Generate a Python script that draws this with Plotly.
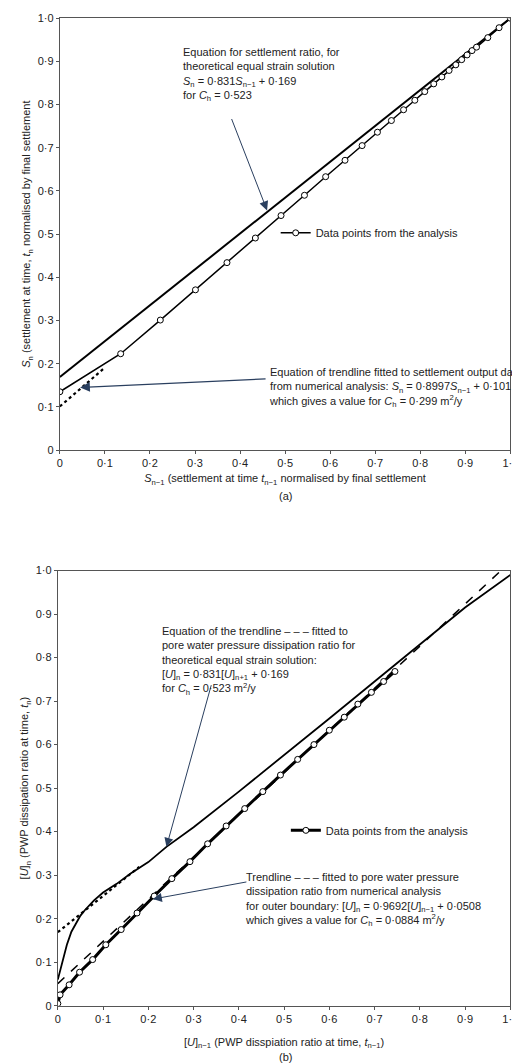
import plotly.graph_objects as go

# ---- Panel (a) data ----
a_x = [0, 0.135, 0.223, 0.301, 0.371, 0.434, 0.491, 0.543, 0.590, 0.633, 0.671, 0.705,
       0.736, 0.763, 0.788, 0.810, 0.830, 0.848, 0.864, 0.879, 0.892, 0.904, 0.915, 0.925,
       0.95, 0.975, 1.0]
a_y = [0.135, 0.223, 0.301, 0.371, 0.434, 0.491, 0.543, 0.590, 0.633, 0.671, 0.705, 0.736,
       0.763, 0.788, 0.810, 0.830, 0.848, 0.864, 0.879, 0.892, 0.904, 0.915, 0.925, 0.933,
       0.955, 0.978, 1.0]
a_theory_x = [0, 1]
a_theory_y = [0.169, 1.0]
a_trend_x = [0, 0.1]
a_trend_y = [0.101, 0.191]

# ---- Panel (b) data ----
b_x = [0, 0.005, 0.025, 0.048, 0.077, 0.106, 0.140, 0.175, 0.213, 0.252, 0.292, 0.331,
       0.372, 0.413, 0.453, 0.492, 0.530, 0.566, 0.600, 0.633, 0.663, 0.693, 0.720, 0.745]
b_y = [0.005, 0.025, 0.048, 0.077, 0.106, 0.140, 0.175, 0.213, 0.252, 0.292, 0.331, 0.372,
       0.413, 0.453, 0.492, 0.530, 0.566, 0.600, 0.633, 0.663, 0.693, 0.720, 0.745, 0.768]
b_theory_x = [0, 0.01, 0.02, 0.03, 0.04, 0.05, 0.06, 0.08, 0.10, 0.13, 0.16, 0.20, 0.24,
              0.30, 0.40, 0.50, 0.60, 0.70, 0.80, 0.90, 1.0]
b_theory_y = [0.06, 0.10, 0.14, 0.17, 0.19, 0.207, 0.22, 0.242, 0.26, 0.28, 0.303, 0.33, 0.365,
              0.41, 0.492, 0.575, 0.66, 0.745, 0.83, 0.915, 0.99]
b_tdot_x = [0, 0.18]
b_tdot_y = [0.169, 0.319]
b_trend_x = [0, 0.98]
b_trend_y = [0.0508, 1.0006]

ticks = [i / 10 for i in range(11)]
ticklab = ["0"] + ["0·%d" % i for i in range(1, 10)] + ["1·0"]

FONT = "Liberation Sans, Arial, sans-serif"
FS = 11
fig = go.Figure()

fig.add_trace(go.Scatter(x=a_theory_x, y=a_theory_y, mode="lines", line=dict(color="black", width=2),
                         xaxis="x", yaxis="y", showlegend=False))
fig.add_trace(go.Scatter(x=a_trend_x, y=a_trend_y, mode="lines", line=dict(color="black", width=2.2, dash="dot"),
                         xaxis="x", yaxis="y", showlegend=False))
fig.add_trace(go.Scatter(x=a_x, y=a_y, mode="lines+markers", name="Data points from the analysis",
                         line=dict(color="black", width=1.5),
                         marker=dict(symbol="circle", size=6, color="white", line=dict(color="black", width=1)),
                         xaxis="x", yaxis="y", legend="legend"))

fig.add_trace(go.Scatter(x=b_tdot_x, y=b_tdot_y, mode="lines", line=dict(color="black", width=2.2, dash="dot"),
                         xaxis="x2", yaxis="y2", showlegend=False))
fig.add_trace(go.Scatter(x=b_theory_x, y=b_theory_y, mode="lines", line=dict(color="black", width=1.8),
                         xaxis="x2", yaxis="y2", showlegend=False))
fig.add_trace(go.Scatter(x=b_trend_x, y=b_trend_y, mode="lines", line=dict(color="black", width=1.5, dash="dash"),
                         xaxis="x2", yaxis="y2", showlegend=False))
fig.add_trace(go.Scatter(x=b_x, y=b_y, mode="lines+markers", name="Data points from the analysis",
                         line=dict(color="black", width=3),
                         marker=dict(symbol="circle", size=6, color="white", line=dict(color="black", width=1)),
                         xaxis="x2", yaxis="y2", legend="legend2"))

ax_common = dict(range=[0, 1], tickvals=ticks, ticktext=ticklab, showgrid=False, zeroline=False,
                 showline=True, mirror=True, linecolor="#555", linewidth=1, ticks="outside",
                 ticklen=3, tickcolor="#555", tickfont=dict(size=FS, color="#222"))

fig.update_layout(
    width=520, height=1064, margin=dict(l=0, r=0, t=0, b=0),
    plot_bgcolor="white", paper_bgcolor="white",
    font=dict(family=FONT, size=FS, color="#222"),
    xaxis=dict(domain=[0.096, 0.981], anchor="y", **ax_common,
               title=dict(text="<i>S</i><sub>n−1</sub> (settlement at time <i>t</i><sub>n−1</sub> normalised by final settlement",
                          font=dict(size=FS), standoff=6)),
    yaxis=dict(domain=[0.5855, 0.996], anchor="x", **ax_common,
               title=dict(text="<i>S</i><sub>n</sub> (settlement at time, <i>t</i><sub>n</sub> normalised by final settlement",
                          font=dict(size=FS), standoff=4)),
    xaxis2=dict(domain=[0.092, 0.981], anchor="y2", **ax_common,
                title=dict(text="[<i>U</i>]<sub>n−1</sub> (PWP disspiation ratio at time, <i>t</i><sub>n−1</sub>)",
                           font=dict(size=FS), standoff=14)),
    yaxis2=dict(domain=[0.0573, 0.471], anchor="x2", **ax_common,
                title=dict(text="[<i>U</i>]<sub>n</sub> (PWP dissipation ratio at time, <i>t</i><sub>n</sub>)",
                           font=dict(size=FS), standoff=4)),
    legend=dict(x=0.52, y=0.792, xanchor="left", yanchor="middle", bgcolor="rgba(0,0,0,0)",
                font=dict(size=FS), itemwidth=30),
    legend2=dict(x=0.54, y=0.224, xanchor="left", yanchor="middle", bgcolor="rgba(0,0,0,0)",
                 font=dict(size=FS), itemwidth=30),
)

ann = []
ann.append(dict(xref="x", yref="y", x=0.46, y=0.555, ax=0.38, ay=0.77, axref="x", ayref="y",
                showarrow=True, arrowhead=2, arrowsize=1.8, arrowwidth=1, text=""))
ann.append(dict(xref="x", yref="y", x=0.27, y=0.94, xanchor="left", yanchor="top", align="left", showarrow=False,
                text="Equation for settlement ratio, for<br>theoretical equal strain solution<br>"
                     "<i>S</i><sub>n</sub> = 0·831<i>S</i><sub>n−1</sub> + 0·169<br>for <i>C</i><sub>h</sub> = 0·523"))
ann.append(dict(xref="x", yref="y", x=0.045, y=0.145, ax=0.46, ay=0.165, axref="x", ayref="y",
                showarrow=True, arrowhead=2, arrowsize=1.5, arrowwidth=1.3, text=""))
ann.append(dict(xref="x", yref="y", x=0.46, y=0.2, xanchor="left", yanchor="top", align="left", showarrow=False,
                text="Equation of trendline fitted to settlement output data<br>from numerical analysis: "
                     "<i>S</i><sub>n</sub> = 0·8997<i>S</i><sub>n−1</sub> + 0·101<br>"
                     "which gives a value for <i>C</i><sub>h</sub> = 0·299 m<sup>2</sup>/y"))
ann.append(dict(xref="paper", yref="paper", x=0.54, y=0.542, showarrow=False, text="(a)", font=dict(size=FS)))

ann.append(dict(xref="x2", yref="y2", x=0.24, y=0.365, ax=0.34, ay=0.74, axref="x2", ayref="y2",
                showarrow=True, arrowhead=2, arrowsize=1.8, arrowwidth=1, text=""))
ann.append(dict(xref="x2", yref="y2", x=0.225, y=0.88, xanchor="left", yanchor="top", align="left", showarrow=False,
                text="Equation of the trendline – – – fitted to<br>pore water pressure dissipation ratio for<br>"
                     "theoretical equal strain solution:<br>[<i>U</i>]<sub>n</sub> = 0·831[<i>U</i>]<sub>n+1</sub> + 0·169<br>"
                     "for <i>C</i><sub>h</sub> = 0·523 m<sup>2</sup>/y"))
ann.append(dict(xref="x2", yref="y2", x=0.21, y=0.245, ax=0.42, ay=0.285, axref="x2", ayref="y2",
                showarrow=True, arrowhead=2, arrowsize=1.8, arrowwidth=1, text=""))
ann.append(dict(xref="x2", yref="y2", x=0.41, y=0.315, xanchor="left", yanchor="top", align="left", showarrow=False,
                text="Trendline – – – fitted to pore water pressure<br>dissipation ratio from numerical analysis<br>"
                     "for outer boundary: [<i>U</i>]<sub>n</sub> = 0·9692[<i>U</i>]<sub>n−1</sub> + 0·0508<br>"
                     "which gives a value for <i>C</i><sub>h</sub> = 0·0884 m<sup>2</sup>/y"))
ann.append(dict(xref="paper", yref="paper", x=0.54, y=0.001, yanchor="bottom", showarrow=False, text="(b)",
                font=dict(size=FS)))
fig.update_layout(annotations=ann)

fig.write_html("out.html")
